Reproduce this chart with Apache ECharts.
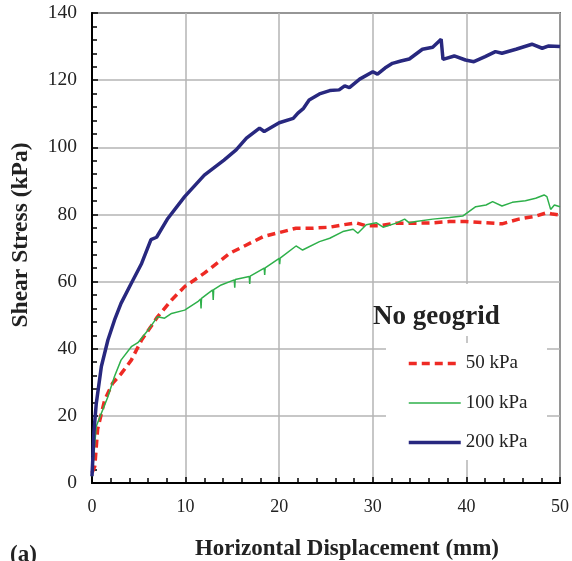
<!DOCTYPE html>
<html>
<head>
<meta charset="utf-8">
<script src="https://cdn.jsdelivr.net/npm/echarts@6/dist/echarts.min.js"></script>
<style>
  html, body { margin: 0; padding: 0; background: #fff; }
  #chart { width: 572px; height: 561px; }
</style>
</head>
<body>
<div id="chart"></div>
<script>
// Direct shear test, no geogrid: shear stress vs horizontal displacement
const seriesNames = ['50 kPa', '100 kPa', '200 kPa'];
const xTicks = [0, 10, 20, 30, 40, 50];
const yTicks = [0, 20, 40, 60, 80, 100, 120, 140];

// 50 kPa normal stress
const disp50 = [0, 0.3, 0.6, 1.35, 2.2, 3.1, 4.2, 5.3, 6.3, 7.0, 8.5, 9.9, 12.0, 14.7, 16.5, 18.3, 20.0, 21.8, 23.6, 25.4, 26.8, 28.2, 29.3, 30.7, 32.5, 34.6, 36.4, 38.2, 39.9, 42.1, 43.8, 45.6, 47.4, 48.6, 49.2, 50];
const stress50 = [3, 5, 16, 24.7, 29.7, 32.5, 36.6, 42.6, 46.6, 49.5, 54.5, 58.5, 62.5, 68.4, 70.9, 73.4, 74.6, 75.9, 75.9, 76.2, 76.9, 77.5, 76.6, 76.6, 77.4, 77.4, 77.5, 77.9, 77.9, 77.5, 77.2, 78.6, 79.5, 80.5, 80.1, 79.8];

// 100 kPa normal stress
const disp100 = [0, 0.1, 0.45, 1.0, 1.7, 2.4, 3.1, 4.2, 4.9, 6.0, 7.0, 7.75, 8.5, 9.9, 11.3, 11.6, 11.65, 11.7, 12.4, 12.9, 12.95, 13.0, 13.8, 15.2, 15.25, 15.3, 16.8, 16.85, 16.9, 18.4, 18.45, 18.5, 20.0, 20.05, 20.1, 21.8, 22.5, 24.3, 25.4, 26.8, 27.9, 28.4, 29.3, 30.4, 31.1, 32.5, 33.4, 33.9, 34.6, 36.4, 38.2, 39.6, 41.0, 42.1, 42.8, 43.8, 44.9, 46.3, 47.4, 48.3, 48.6, 49.0, 49.4, 50];
const stress100 = [2, 5, 16.8, 20.8, 25.7, 31.7, 36.6, 40.6, 41.8, 45.6, 49.5, 49.1, 50.5, 51.5, 54.0, 54.8, 52.0, 55.0, 56.5, 57.5, 54.5, 57.6, 59.0, 60.5, 58.2, 60.6, 61.5, 59.3, 61.6, 64.0, 62.0, 64.1, 66.9, 65.2, 67.0, 70.6, 69.4, 71.9, 72.9, 74.9, 75.6, 74.4, 76.9, 77.5, 76.2, 77.4, 78.6, 77.5, 77.9, 78.6, 79.1, 79.5, 82.3, 82.8, 83.8, 82.5, 83.6, 84.1, 84.8, 85.8, 85.3, 81.5, 82.8, 82.3];

// 200 kPa normal stress
const disp200 = [0, 0.1, 0.2, 0.45, 1.0, 1.7, 2.4, 3.1, 4.2, 5.3, 6.3, 6.9, 8.1, 9.9, 12.0, 14.1, 15.4, 16.5, 17.9, 18.4, 20.0, 21.5, 22.0, 22.6, 23.2, 24.3, 25.4, 26.4, 27.0, 27.5, 28.6, 30.0, 30.5, 31.3, 32.1, 33.0, 33.9, 35.3, 36.4, 37.3, 37.5, 38.7, 39.9, 40.8, 42.0, 43.1, 43.8, 45.3, 47.0, 48.1, 48.8, 50];
const stress200 = [2, 8, 15, 23.5, 34.7, 42.6, 48.5, 53.5, 59.5, 65.4, 72.5, 73.2, 78.8, 85.3, 91.7, 96.2, 99.2, 102.7, 105.7, 104.7, 107.3, 108.6, 110.2, 111.6, 114.1, 115.9, 116.9, 117.1, 118.3, 117.8, 120.3, 122.5, 121.8, 123.6, 125.0, 125.7, 126.3, 129.2, 129.8, 132.2, 126.2, 127.2, 126.0, 125.5, 127.0, 128.5, 128.0, 129.2, 130.7, 129.5, 130.2, 130.0];

const lineColors = ['#ee2a24', '#2eb04a', '#28287f'];
const lineWidths = [3.5, 1.5, 3.5];

const zip = (xs, ys) => xs.map((x, i) => [x, ys[i]]);

const serif = 'Liberation Serif, Times New Roman, serif';
const chart = echarts.init(document.getElementById('chart'));

const axisCommon = {
  type: 'value',
  axisLine: { show: true, lineStyle: { color: '#000', width: 2 } },
  axisTick: { show: true, inside: true, length: 6, lineStyle: { color: '#000', width: 1.5 } },
  minorTick: { show: true, splitNumber: 5, length: 5, lineStyle: { color: '#000', width: 1.5 } },
  splitLine: { show: true, lineStyle: { color: '#b4b4b4', width: 1.5 } },
  axisLabel: { fontFamily: serif, fontSize: 18, color: '#222' }
};

chart.setOption({
  animation: false,
  backgroundColor: '#fff',
  grid: {
    left: 92, right: 11, top: 13, bottom: 78,
    show: true, borderColor: '#000', borderWidth: 1.5
  },
  xAxis: Object.assign({}, axisCommon, {
    min: xTicks[0], max: xTicks[xTicks.length - 1], interval: 10,
    axisLabel: Object.assign({}, axisCommon.axisLabel, { margin: 15 })
  }),
  yAxis: Object.assign({}, axisCommon, {
    min: yTicks[0], max: yTicks[yTicks.length - 1], interval: 20,
    axisLabel: Object.assign({}, axisCommon.axisLabel, { fontSize: 19.5, margin: 15 })
  }),
  legend: {
    data: seriesNames.map((name, i) => ({
      name: name,
      lineStyle: { width: lineWidths[i] }
    })),
    orient: 'vertical',
    left: 402, top: 349,
    itemWidth: 52, itemHeight: 14, itemGap: 20.5,
    z: 10,
    itemStyle: { opacity: 0 },
    textStyle: { fontFamily: serif, fontSize: 19, color: '#222' }
  },
  graphic: [
    { type: 'rect', z: 1, shape: { x: 386, y: 284, width: 161, height: 52 }, style: { fill: '#fff' } },
    { type: 'rect', z: 1, shape: { x: 386, y: 343, width: 161, height: 117 }, style: { fill: '#fff' } },
    { type: 'text', z: 5, left: 373, top: 304,
      style: { text: 'No geogrid', fontFamily: serif, fontSize: 27, fontWeight: 'bold', fill: '#222' } },
    { type: 'text', z: 5, x: 21, y: 235, rotation: Math.PI / 2,
      style: { text: 'Shear Stress (kPa)', fontFamily: serif, fontSize: 23.5, fontWeight: 'bold', fill: '#222',
               align: 'center', verticalAlign: 'middle' } },
    { type: 'text', z: 5, x: 347, y: 549,
      style: { text: 'Horizontal Displacement (mm)', fontFamily: serif, fontSize: 23, fontWeight: 'bold', fill: '#222',
               align: 'center', verticalAlign: 'middle' } },
    { type: 'text', z: 5, x: 10, y: 555,
      style: { text: '(a)', fontFamily: serif, fontSize: 23, fontWeight: 'bold', fill: '#222',
               align: 'left', verticalAlign: 'middle' } }
  ],
  series: [
    {
      name: seriesNames[0], type: 'line', data: zip(disp50, stress50),
      showSymbol: false, symbol: 'none', z: 3,
      lineStyle: { color: lineColors[0], width: lineWidths[0], type: [8, 5] },
      itemStyle: { color: lineColors[0] }
    },
    {
      name: seriesNames[1], type: 'line', data: zip(disp100, stress100),
      showSymbol: false, symbol: 'none', z: 4,
      lineStyle: { color: lineColors[1], width: lineWidths[1] },
      itemStyle: { color: lineColors[1] }
    },
    {
      name: seriesNames[2], type: 'line', data: zip(disp200, stress200),
      showSymbol: false, symbol: 'none', z: 5,
      lineStyle: { color: lineColors[2], width: lineWidths[2] },
      itemStyle: { color: lineColors[2] }
    }
  ]
});
</script>
</body>
</html>
